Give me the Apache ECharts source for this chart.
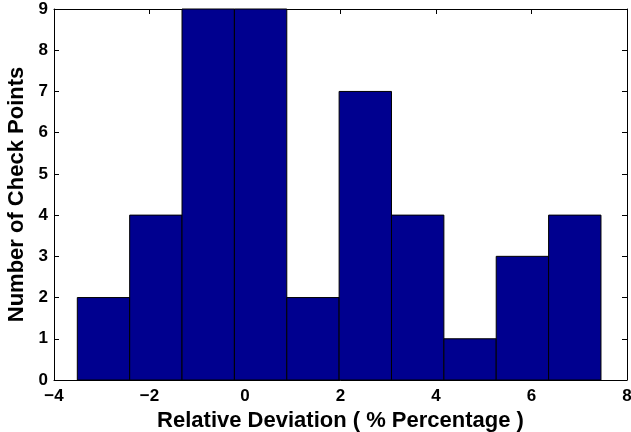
<!DOCTYPE html>
<html>
<head>
<meta charset="utf-8">
<script src="https://cdn.jsdelivr.net/npm/echarts@6/dist/echarts.min.js"></script>
<style>
  html, body { margin: 0; padding: 0; background: #fff; }
  #chart { width: 631px; height: 432px; }
</style>
</head>
<body>
<div id="chart"></div>
<script>
// histogram bins (left edge, right edge) and counts
const binLeft = [-3.512, -2.415, -1.319, -0.222, 0.875, 1.971, 3.068, 4.165, 5.261, 6.358]
const binRight = [-2.415, -1.319, -0.222, 0.875, 1.971, 3.068, 4.165, 5.261, 6.358, 7.455]
const counts = [2, 4, 9, 9, 2, 7, 4, 1, 3, 4]

const font = 'Liberation Sans, Arial, sans-serif'
const fmtX = v => (v < 0 ? '\u2212' + Math.abs(v) : String(v))

let data = []
for (let i = 0; i < counts.length; i++) {
  data.push([binLeft[i], binRight[i], counts[i]])
}

const axisCommon = {
  axisLine: { show: true, onZero: false, lineStyle: { color: '#000', width: 1 } },
  axisTick: { show: true, inside: true, length: 5, lineStyle: { color: '#000' } },
  splitLine: { show: false },
}

let option = {
  animation: false,
  grid: { left: 54, right: 4, top: 9, bottom: 52, containLabel: false, outerBoundsMode: 'none' },
  xAxis: [
    {
      ...axisCommon,
      type: 'value', min: -4, max: 8, interval: 2,
      axisLabel: { color: '#000', fontWeight: 'bold', fontSize: 17, fontFamily: font, margin: 8, formatter: fmtX },
      name: 'Relative Deviation ( % Percentage )',
      nameLocation: 'middle', nameGap: 26,
      nameTextStyle: { color: '#000', fontWeight: 'bold', fontSize: 22, fontFamily: font },
    },
    {
      ...axisCommon,
      type: 'value', min: -4, max: 8, interval: 2, position: 'top',
      axisLabel: { show: false },
    },
  ],
  yAxis: [
    {
      ...axisCommon,
      type: 'value', min: 0, max: 9, interval: 1,
      axisLabel: { color: '#000', fontWeight: 'bold', fontSize: 17, fontFamily: font, margin: 6 },
      name: 'Number of Check Points',
      nameLocation: 'middle', nameGap: 24,
      nameTextStyle: { color: '#000', fontWeight: 'bold', fontSize: 22, fontFamily: font },
    },
    {
      ...axisCommon,
      type: 'value', min: 0, max: 9, interval: 1, position: 'right',
      axisLabel: { show: false },
    },
  ],
  series: [
    {
      type: 'custom',
      data: data,
      encode: { x: [0, 1], y: 2 },
      renderItem: (params, api) => {
        let p0 = api.coord([api.value(0), api.value(2)])
        let p1 = api.coord([api.value(1), 0])
        return {
          type: 'rect',
          shape: { x: p0[0], y: p0[1], width: p1[0] - p0[0], height: p1[1] - p0[1] },
          style: { fill: '#00008f', stroke: '#000', lineWidth: 1 },
        }
      },
    },
  ],
}

let myChart = echarts.init(document.getElementById('chart'))
myChart.setOption(option)
</script>
</body>
</html>
